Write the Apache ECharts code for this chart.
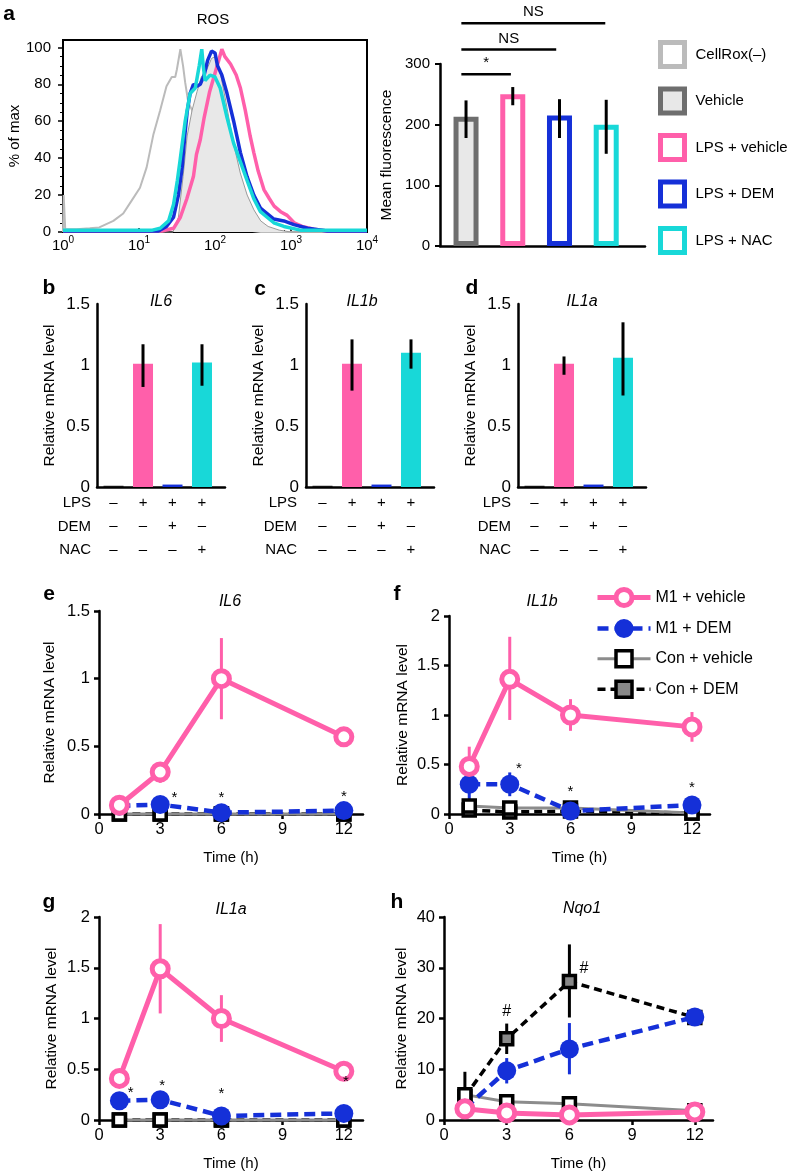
<!DOCTYPE html>
<html><head><meta charset="utf-8">
<script src="https://cdn.jsdelivr.net/npm/echarts@6/dist/echarts.min.js"></script>
<style>html,body{margin:0;padding:0;background:#fff}#c{width:788px;height:1174px}</style>
</head><body><div id="c"></div>
<script>
// ================= DATA =================
// Panel a – ROS histogram (fluorescence, % of max)
const histCellRox = [[1,0],[1.02,20],[1.07,1.5],[1.5,1.5],[2.25,2],[3,2.5],[4.6,6],[6.2,10],[8,17],[10.3,24],[12.6,35],[15.5,53],[19,66],[23,79],[27,84],[30,84],[31.5,88],[35,99],[38,90],[40.5,81],[44.6,70],[50,66],[60,55],[75,35],[95,18],[130,6],[200,1.5],[400,0],[10000,0]];
const histVehicle = [[1,0],[28,0],[33,8],[38,30],[43,52],[50,66],[58,76],[66,84],[78,88],[90,94],[100,95],[115,88],[140,70],[175,48],[215,32],[265,20],[325,12],[400,6],[500,3],[700,1],[1000,0],[10000,0]];
const histLpsVehicle = [[1,0.5],[20,0.5],[28.5,2],[35,8],[42.6,18],[52,30],[57,42],[64,50],[72,62],[85,76],[100,86],[112,93],[123,99],[135,95],[160,91],[190,85],[216,78],[250,66],[290,52],[324,43],[370,33],[440,23],[520,18],[600,14],[730,11],[890,9],[1100,5],[1400,3],[2000,1.5],[3000,0.5],[10000,0.5]];
const histLpsDem = [[1,0.5],[18,0.5],[23,3],[28.5,8],[33,20],[37,35],[40,52],[43,65],[47,75],[52,80],[58,79],[64,80],[72,85],[80,93],[90,98],[100,97],[108,90],[123,85],[144,75],[176,60],[216,43],[264,30],[324,20],[396,13],[485,10],[594,7],[806,6],[1093,4],[1650,2],[3000,0.5],[10000,0.5]];
const histLpsNac = [[1,1],[15,1],[19,2],[24.5,6],[28.5,15],[32,28],[35,40],[40.5,60],[47,75],[55,78],[62,90],[67,99],[70,90],[74,82],[86,85],[100,84],[117,78],[144,62],[176,48],[216,38],[264,28],[324,18],[396,11],[485,8],[594,5],[806,3],[1330,1],[10000,1]];
const histXTicks = [1, 10, 100, 1000, 10000];

// Panel a – mean fluorescence bars
const aGroups = ['Vehicle', 'LPS + vehicle', 'LPS + DEM', 'LPS + NAC'];
const aMeans  = [213, 250, 215, 200];
const aErrLo  = [178, 232, 178, 152];
const aErrHi  = [240, 262, 242, 241];
const aSigFrom = [0.9, 0.9, 0.9];
const aSigTo   = [1.96, 2.93, 3.98];
const aSigY    = [283, 324, 367];
const aSigText = ['*', 'NS', 'NS'];
const aLegendNames = ['CellRox(–)', 'Vehicle', 'LPS + vehicle', 'LPS + DEM', 'LPS + NAC'];

// Panels b–d – relative mRNA level
const condLPS = ['–', '+', '+', '+'];
const condDEM = ['–', '–', '+', '–'];
const condNAC = ['–', '–', '–', '+'];
const bIL6  = [0.01, 1.01, 0.02, 1.02];
const bLo   = [null, 0.82, null, 0.83];
const bHi   = [null, 1.17, null, 1.17];
const cIL1b = [0.01, 1.01, 0.02, 1.10];
const cLo   = [null, 0.79, null, 0.97];
const cHi   = [null, 1.21, null, 1.21];
const dIL1a = [0.01, 1.01, 0.02, 1.06];
const dLo   = [null, 0.92, null, 0.75];
const dHi   = [null, 1.07, null, 1.35];

// Panels e–h – time course
const times = [1, 3, 6, 12];
const timeTicks = [0, 3, 6, 9, 12];
// e IL6
const eM1veh = [0.065, 0.31, 1.0, 0.57];
const eM1vehLo = [null, 0.23, 0.70, null];
const eM1vehHi = [null, 0.38, 1.30, null];
const eM1dem = [0.06, 0.07, 0.01, 0.025];
const eConVeh = [0, 0, 0, 0];
const eConDem = [0, 0, 0, 0];
const eStars = [[3.7, 0.12], [6.0, 0.12], [12.0, 0.13]];
// f IL1b
const fM1veh = [0.48, 1.36, 1.0, 0.88];
const fM1vehLo = [0.36, 0.95, 0.84, 0.73];
const fM1vehHi = [0.68, 1.79, 1.16, 1.03];
const fM1dem = [0.30, 0.30, 0.03, 0.09];
const fM1demLo = [0.12, 0.18, null, null];
const fM1demHi = [0.42, 0.42, null, null];
const fConVeh = [0.08, 0.06, 0.06, 0.01];
const fConDem = [0.04, 0.02, 0.03, 0.01];
const fStars = [[3.45, 0.46], [6.0, 0.22], [12.0, 0.26]];
// g IL1a
const gM1veh = [0.41, 1.49, 1.0, 0.48];
const gM1vehLo = [null, 1.05, 0.77, null];
const gM1vehHi = [null, 1.93, 1.23, null];
const gM1dem = [0.19, 0.2, 0.04, 0.065];
const gConVeh = [0, 0, 0, 0];
const gConDem = [0, 0, 0, 0];
const gStars = [[1.55, 0.27], [3.1, 0.34], [6.0, 0.26], [12.1, 0.38]];
// h Nqo1
const hM1veh = [2.2, 1.4, 1.0, 1.6];
const hM1dem = [2.3, 9.7, 14, 20.3];
const hM1demLo = [null, 7.2, 9.0, null];
const hM1demHi = [null, 12.2, 19.1, null];
const hConVeh = [5.0, 3.6, 3.2, 1.8];
const hConDem = [4.6, 16, 27.3, 20.2];
const hConDemLo = [1.0, 13.0, 20.2, null];
const hConDemHi = [9.5, 19.0, 34.6, null];
const hHash = [[3.0, 21.3], [6.7, 29.8]];

// ================= STYLE =================
const FONT = '"Liberation Sans", Arial, Helvetica, sans-serif';
const PINK = '#FF5FAA', BLUE = '#1530D8', CYAN = '#18D8D8';
const DGRAY = '#6E6E6E', LGRAY = '#BBBBBB', LFILL = '#E8E8E8';
const aFill = ['#E8E8E8', '#FFFFFF', '#FFFFFF', '#FFFFFF'];
const aStroke = [DGRAY, PINK, BLUE, CYAN];
const legFill = ['#FFFFFF', '#E8E8E8', '#FFFFFF', '#FFFFFF', '#FFFFFF'];
const legStroke = [LGRAY, DGRAY, PINK, BLUE, CYAN];
const bdColors = ['#111111', PINK, BLUE, CYAN];

const LINE_NAMES = ['M1 + vehicle', 'M1 + DEM', 'Con + vehicle', 'Con + DEM'];
const LINE_STYLES = {
  'M1 + vehicle': {line:{color:PINK,width:5,type:'solid'}, symbol:'circle', size:16, item:{color:'#fff',borderColor:PINK,borderWidth:5}, err:PINK},
  'M1 + DEM': {line:{color:BLUE,width:4.5,type:[11,6]}, symbol:'circle', size:19, item:{color:BLUE,borderColor:BLUE,borderWidth:0}, err:BLUE},
  'Con + vehicle': {line:{color:'#8C8C8C',width:3,type:'solid'}, symbol:'rect', size:12, item:{color:'#fff',borderColor:'#000',borderWidth:3.5}, err:'#000'},
  'Con + DEM': {line:{color:'#000',width:3.5,type:[8,5]}, symbol:'rect', size:12, item:{color:'#888',borderColor:'#000',borderWidth:3.5}, err:'#000'}
};
const DRAW_ORDER = ['Con + DEM', 'Con + vehicle', 'M1 + DEM', 'M1 + vehicle'];

// ================= HELPERS =================
function errRows(xs, lo, hi) { const r = []; xs.forEach((x, i) => { if (lo[i] != null) r.push([x, lo[i], hi[i]]); }); return r; }
function errSeries(xi, rows, color, width) {
  return {type:'custom', xAxisIndex:xi, yAxisIndex:xi, data:rows, z:1, silent:true, clip:false,
    encode:{x:0, y:[1,2]},
    renderItem:(params, api) => {
      const x = api.value(0);
      const p1 = api.coord([x, api.value(1)]), p2 = api.coord([x, api.value(2)]);
      return {type:'line', shape:{x1:p1[0], y1:p1[1], x2:p2[0], y2:p2[1]}, style:{stroke:color, lineWidth:width}};
    }};
}
function textSeries(xi, pts, txt, size) {
  return {type:'custom', xAxisIndex:xi, yAxisIndex:xi, data:pts, z:6, silent:true, clip:false,
    encode:{x:0, y:1},
    renderItem:(params, api) => {
      const p = api.coord([api.value(0), api.value(1)]);
      return {type:'text', x:p[0], y:p[1], style:{text:txt, fontSize:size, fontFamily:FONT, fill:'#000', align:'center', verticalAlign:'middle'}};
    }};
}
const axLine = w => ({show:true, onZero:false, lineStyle:{color:'#000', width:w}});
const nameStyle = s => ({fontSize:s, fontFamily:FONT, color:'#000'});

// ================= GRIDS =================
const grids = [
  {left:63, top:40, width:304, height:192, show:true, borderColor:'#000', borderWidth:2}, // a hist
  {left:440, top:64, width:205, height:182},   // a bars
  {left:97, top:304, width:128, height:183},   // b
  {left:306, top:304, width:128, height:183},  // c
  {left:518, top:304, width:128, height:183},  // d
  {left:99, top:611, width:264, height:203},   // e
  {left:449, top:616, width:261, height:198},  // f
  {left:99, top:917, width:264, height:203},   // g
  {left:444, top:917, width:269, height:203}   // h
].map(g => Object.assign({containLabel:false, outerBoundsMode:'none'}, g));

const xAxes = [], yAxes = [];
// a hist
xAxes.push({type:'log', logBase:10, gridIndex:0, min:1, max:10000, axisLine:axLine(2),
  axisTick:{show:true, inside:true, length:4, lineStyle:{color:'#000', width:1.5}},
  minorTick:{show:true, splitNumber:5, length:2, lineStyle:{color:'#000'}},
  splitLine:{show:false},
  axisLabel:{show:true, color:'#000', fontFamily:FONT, fontSize:15, lineHeight:22, margin:3,
    customValues: histXTicks,
    formatter: v => '10{s|' + Math.round(Math.log10(v)) + '}',
    rich:{s:{fontSize:10, fontFamily:FONT, color:'#000', verticalAlign:'top', lineHeight:10}}}});
yAxes.push({type:'value', gridIndex:0, min:0, max:104, interval:20, axisLine:axLine(2),
  axisTick:{show:true, length:5, customValues:[0,20,40,60,80,100], lineStyle:{color:'#000', width:1.5}},
  minorTick:{show:true, splitNumber:4, length:3, lineStyle:{color:'#000'}},
  splitLine:{show:false},
  axisLabel:{color:'#000', fontFamily:FONT, fontSize:15, margin:12, customValues:[0,20,40,60,80,100]},
  name:'% of max', nameLocation:'middle', nameGap:40, nameTextStyle:nameStyle(15)});
// a bars
xAxes.push({type:'value', gridIndex:1, min:0.443, max:4.83, axisLine:axLine(2.5), axisTick:{show:false}, axisLabel:{show:false}, splitLine:{show:false}});
yAxes.push({type:'value', gridIndex:1, min:0, max:300, interval:100, axisLine:axLine(2.5),
  axisTick:{show:true, length:5, lineStyle:{color:'#000', width:2}}, splitLine:{show:false},
  axisLabel:{color:'#000', fontFamily:FONT, fontSize:15, margin:10},
  name:'Mean fluorescence', nameLocation:'middle', nameGap:45, nameTextStyle:nameStyle(15.5)});
// b-d
for (let k = 0; k < 3; k++) {
  xAxes.push({type:'value', gridIndex:2+k, min:0.44, max:4.78, axisLine:axLine(2.5), axisTick:{show:false}, splitLine:{show:false},
    axisLabel:{show:true, customValues:[1,2,3,4], color:'#000', fontFamily:FONT, fontSize:15, lineHeight:23.5, margin:4,
      formatter: v => condLPS[v-1] + '\n' + condDEM[v-1] + '\n' + condNAC[v-1]}});
  yAxes.push({type:'value', gridIndex:2+k, min:0, max:1.5, interval:0.5, axisLine:axLine(2.5), axisTick:{show:false}, splitLine:{show:false},
    axisLabel:{color:'#000', fontFamily:FONT, fontSize:17, margin:7},
    name:'Relative mRNA level', nameLocation:'middle', nameGap:39, nameTextStyle:nameStyle(15.5)});
}
// e-h
const lineAxes = [
  {g:5, xmax:12.94, ymax:1.5, yint:0.5, gap:41},
  {g:6, xmax:12.89, ymax:2, yint:0.5, gap:38},
  {g:7, xmax:12.94, ymax:2, yint:0.5, gap:39},
  {g:8, xmax:12.87, ymax:40, yint:10, gap:34}
];
lineAxes.forEach(o => {
  xAxes.push({type:'value', gridIndex:o.g, min:0, max:o.xmax, axisLine:axLine(2.5), splitLine:{show:false},
    axisTick:{show:true, length:5, customValues:timeTicks, lineStyle:{color:'#000', width:2.5}},
    axisLabel:{customValues:timeTicks, color:'#000', fontFamily:FONT, fontSize:16.5, margin:7},
    name:'Time (h)', nameLocation:'middle', nameGap:36, nameTextStyle:nameStyle(15)});
  yAxes.push({type:'value', gridIndex:o.g, min:0, max:o.ymax, interval:o.yint, axisLine:axLine(2.5), splitLine:{show:false},
    axisTick:{show:true, length:5, lineStyle:{color:'#000', width:2.5}},
    axisLabel:{color:'#000', fontFamily:FONT, fontSize:16.5, margin:9},
    name:'Relative mRNA level', nameLocation:'middle', nameGap:o.gap, nameTextStyle:nameStyle(15.5)});
});

// ================= SERIES =================
const series = [];
// a bars (first, so legend names map to them)
aGroups.forEach((g, i) => {
  series.push({type:'bar', name:g, xAxisIndex:1, yAxisIndex:1, stack:'a', barWidth:25,
    data:[[i+1, aMeans[i]]], itemStyle:{color:aFill[i], borderColor:aStroke[i], borderWidth:5}, z:2, silent:true});
});
series.push(Object.assign(errSeries(1, aGroups.map((g, i) => [i+1, aErrLo[i], aErrHi[i]]), '#000', 3), {z:3}));
series.push({type:'custom', xAxisIndex:1, yAxisIndex:1, silent:true, clip:false, z:4,
  data: aSigY.map((y, i) => [aSigFrom[i], aSigTo[i], y]), encode:{x:[0,1], y:2},
  renderItem:(params, api) => {
    const p1 = api.coord([api.value(0), api.value(2)]), p2 = api.coord([api.value(1), api.value(2)]);
    return {type:'group', children:[
      {type:'line', shape:{x1:p1[0], y1:p1[1], x2:p2[0], y2:p2[1]}, style:{stroke:'#000', lineWidth:2.5}},
      {type:'text', x:(p1[0]+p2[0])/2, y:p1[1]-11, style:{text:aSigText[params.dataIndex], fontSize:15, fontFamily:FONT, fill:'#000', align:'center', verticalAlign:'middle'}}
    ]};
  }});
// a histogram (CellRox lowest so the Vehicle fill hides its falling edge)
const histDefs = [
  ['CellRox(–)', histCellRox, {color:LGRAY, width:2}, null, 1],
  ['Vehicle', histVehicle, {color:'#9A9A9A', width:1}, {color:LFILL, opacity:1}, 2],
  ['LPS + vehicle', histLpsVehicle, {color:PINK, width:3.5}, null, 3],
  ['LPS + DEM', histLpsDem, {color:BLUE, width:3.5}, null, 3],
  ['LPS + NAC', histLpsNac, {color:CYAN, width:3.5}, null, 3]
];
histDefs.forEach(d => {
  const s = {type:'line', name:d[0], xAxisIndex:0, yAxisIndex:0, data:d[1], symbol:'none', showSymbol:false,
    lineStyle:d[2], itemStyle:{color:d[2].color}, clip:false, silent:true, z:d[4]};
  if (d[3]) s.areaStyle = d[3];
  series.push(s);
});
// b-d
[[bIL6, bLo, bHi], [cIL1b, cLo, cHi], [dIL1a, dLo, dHi]].forEach((p, k) => {
  const xi = 2 + k;
  series.push({type:'bar', xAxisIndex:xi, yAxisIndex:xi, barWidth:20, silent:true, z:2,
    data: p[0].map((v, i) => ({value:[i+1, v], itemStyle:{color:bdColors[i]}}))});
  series.push(Object.assign(errSeries(xi, errRows([1,2,3,4], p[1], p[2]), '#000', 3), {z:3}));
});
// e-h
const LINE_PANELS = [
  {xi:5, vals:{'M1 + vehicle':eM1veh, 'M1 + DEM':eM1dem, 'Con + vehicle':eConVeh, 'Con + DEM':eConDem},
   errs:[['M1 + vehicle', eM1vehLo, eM1vehHi]], marks:eStars, mark:'*'},
  {xi:6, vals:{'M1 + vehicle':fM1veh, 'M1 + DEM':fM1dem, 'Con + vehicle':fConVeh, 'Con + DEM':fConDem},
   errs:[['M1 + vehicle', fM1vehLo, fM1vehHi], ['M1 + DEM', fM1demLo, fM1demHi]], marks:fStars, mark:'*'},
  {xi:7, vals:{'M1 + vehicle':gM1veh, 'M1 + DEM':gM1dem, 'Con + vehicle':gConVeh, 'Con + DEM':gConDem},
   errs:[['M1 + vehicle', gM1vehLo, gM1vehHi]], marks:gStars, mark:'*'},
  {xi:8, vals:{'M1 + vehicle':hM1veh, 'M1 + DEM':hM1dem, 'Con + vehicle':hConVeh, 'Con + DEM':hConDem},
   errs:[['M1 + DEM', hM1demLo, hM1demHi], ['Con + DEM', hConDemLo, hConDemHi]], marks:hHash, mark:'#'}
];
LINE_PANELS.forEach(p => {
  p.errs.forEach(e => series.push(errSeries(p.xi, errRows(times, e[1], e[2]), LINE_STYLES[e[0]].err, 3)));
  DRAW_ORDER.forEach(n => {
    const st = LINE_STYLES[n];
    series.push({type:'line', name:n, xAxisIndex:p.xi, yAxisIndex:p.xi, data:times.map((t, i) => [t, p.vals[n][i]]),
      symbol:st.symbol, symbolSize:st.size, showSymbol:true, lineStyle:st.line, itemStyle:st.item,
      clip:false, silent:true, z:2});
  });
  series.push(textSeries(p.xi, p.marks, p.mark, p.mark === '#' ? 16 : 15));
});

// ================= TEXT =================
const txt = (text, x, y, o) => ({type:'text', x:x, y:y, silent:true, z:10,
  style:Object.assign({text:text, fontFamily:FONT, fontSize:16, fill:'#000', align:'center', verticalAlign:'middle'}, o||{})});
const graphics = [
  txt('a', 9, 14, {fontSize:21, fontWeight:'bold'}),
  txt('b', 49, 288, {fontSize:21, fontWeight:'bold'}),
  txt('c', 260, 289, {fontSize:21, fontWeight:'bold'}),
  txt('d', 472, 288, {fontSize:21, fontWeight:'bold'}),
  txt('e', 49, 594, {fontSize:21, fontWeight:'bold'}),
  txt('f', 397, 594, {fontSize:21, fontWeight:'bold'}),
  txt('g', 49, 902, {fontSize:21, fontWeight:'bold'}),
  txt('h', 397, 902, {fontSize:21, fontWeight:'bold'}),
  txt('ROS', 213, 20, {fontSize:15}),
  txt('IL6', 161, 302, {fontStyle:'italic'}),
  txt('IL1b', 362, 302, {fontStyle:'italic'}),
  txt('IL1a', 582, 302, {fontStyle:'italic'}),
  txt('IL6', 230, 602, {fontStyle:'italic'}),
  txt('IL1b', 542, 602, {fontStyle:'italic'}),
  txt('IL1a', 231, 910, {fontStyle:'italic'}),
  txt('Nqo1', 582, 909, {fontStyle:'italic'})
];
[91, 297, 511].forEach(xr => {
  ['LPS', 'DEM', 'NAC'].forEach((r, j) => graphics.push(txt(r, xr, 503 + j*23.5, {fontSize:15, align:'right'})));
});

// ================= OPTION =================
const option = {
  animation:false,
  backgroundColor:'#fff',
  textStyle:{fontFamily:FONT, color:'#000'},
  grid:grids, xAxis:xAxes, yAxis:yAxes, series:series,
  legend:[
    {orient:'vertical', left:658, top:40, padding:0, itemWidth:24, itemHeight:24, itemGap:17.5, selectedMode:false,
     textStyle:{fontSize:15, fontFamily:FONT, color:'#000', padding:[0,0,0,6]},
     data: aLegendNames.map((n, i) => ({name:n, icon:'rect', itemStyle:{color:legFill[i], borderColor:legStroke[i], borderWidth:5}}))},
    {orient:'vertical', left:595, top:587, padding:0, itemWidth:53, itemHeight:20, itemGap:11, selectedMode:false,
     textStyle:{fontSize:16, fontFamily:FONT, color:'#000'},
     data: LINE_NAMES.map(n => {
       const st = LINE_STYLES[n];
       const it = Object.assign({}, st.item);
       if (n === 'M1 + DEM') it.borderWidth = 3;
       return {name:n, itemStyle:it, lineStyle:{color:st.line.color, width:st.line.width, type:st.line.type}};
     })}
  ],
  graphic:graphics
};
const chart = echarts.init(document.getElementById('c'), null, {renderer:'canvas', width:788, height:1174});
chart.setOption(option);
</script>
</body></html>
